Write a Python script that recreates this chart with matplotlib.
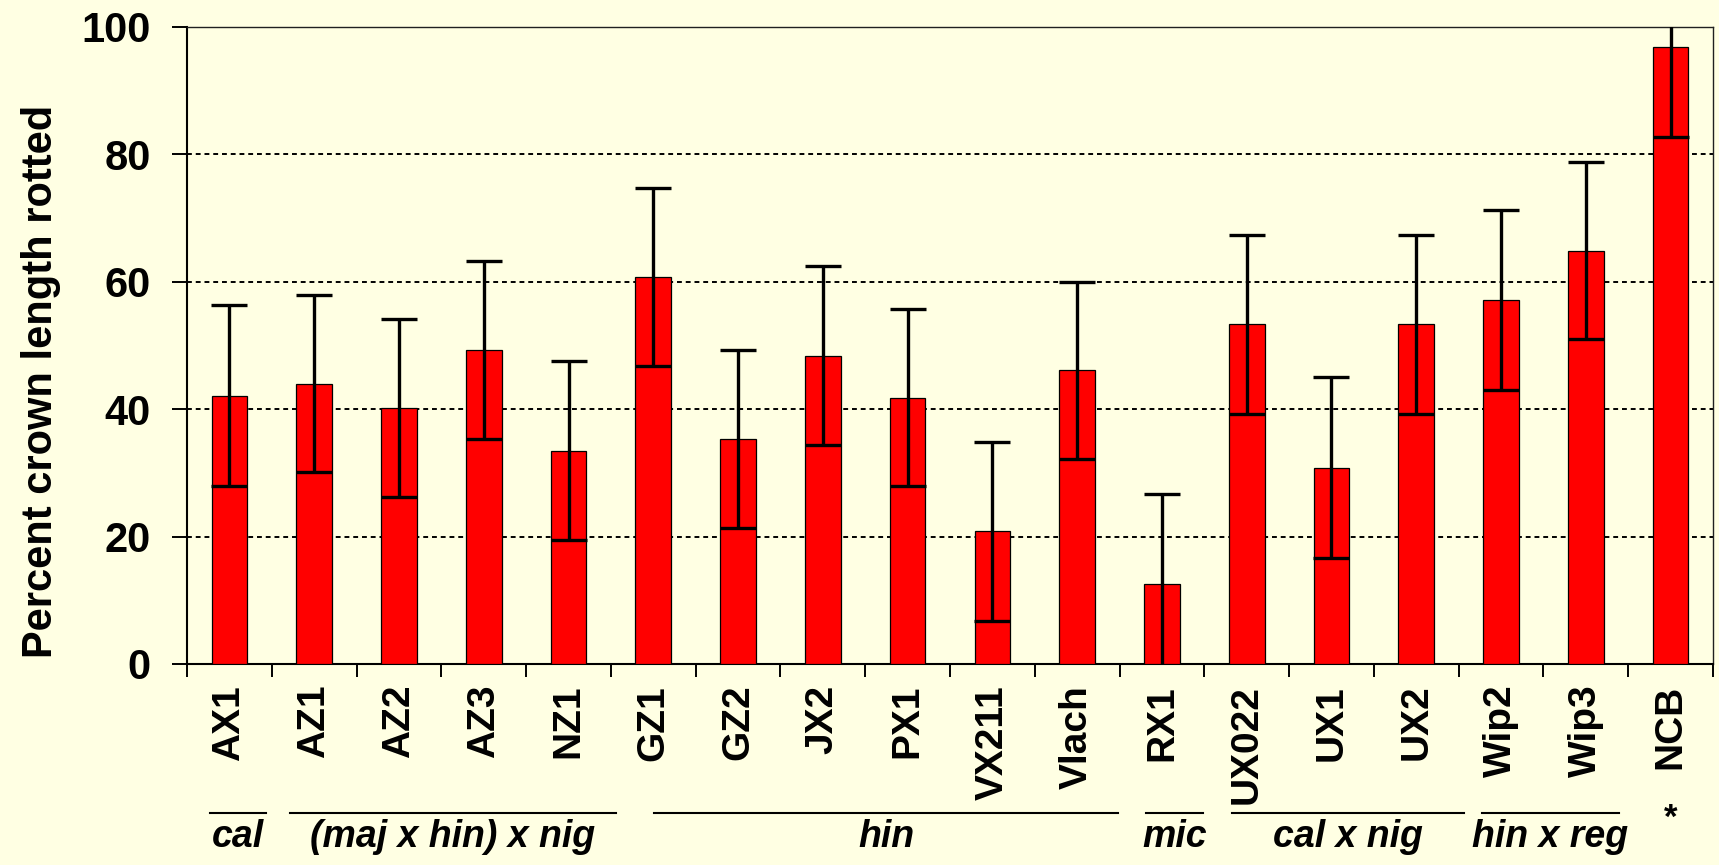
import numpy as np
import matplotlib.pyplot as plt
from matplotlib.lines import Line2D

# Data
cultivars = ['AX1', 'AZ1', 'AZ2', 'AZ3', 'NZ1', 'GZ1', 'GZ2', 'JX2', 'PX1', 'VX211',
             'Vlach', 'RX1', 'UX022', 'UX1', 'UX2', 'Wip2', 'Wip3', 'NCB']
pct_rotted = [42.1, 44.0, 40.2, 49.3, 33.5, 60.8, 35.3, 48.4, 41.8, 20.8,
              46.1, 12.6, 53.3, 30.8, 53.3, 57.1, 64.9, 96.8]
err = [14.2, 13.9, 14.0, 14.0, 14.0, 14.0, 14.0, 14.0, 13.9, 14.1,
       13.9, 14.1, 14.0, 14.2, 14.1, 14.1, 13.9, 14.0]
yticks = [0, 20, 40, 60, 80, 100]

# species groups under the x axis
group_labels = ['cal', '(maj x hin) x nig', 'hin', 'mic', 'cal x nig', 'hin x reg']
# line spans in category units (hand-drawn in the original)
group_spans = [(-0.23, 0.43), (0.71, 4.56), (5.01, 10.48), (10.81, 11.48),
               (11.83, 14.56), (14.77, 16.39)]
star_label = '*'

bg = '#FFFFE3'
font = 'Liberation Sans'

fig = plt.figure(figsize=(17.19, 8.65), dpi=100, facecolor=bg)
ax = fig.add_axes([0.1088, 0.2324, 0.8877, 0.7364], facecolor=bg)

x = np.arange(len(cultivars))
ax.bar(x, pct_rotted, width=0.42, color='#FF0000', edgecolor='black',
       linewidth=0.9, zorder=3)
ax.errorbar(x, pct_rotted, yerr=err, fmt='none', ecolor='black',
            elinewidth=2.4, capsize=13, capthick=2.4, zorder=4)

ax.set_xlim(-0.5, len(cultivars) - 0.5)
ax.set_ylim(0, 100)

# grid
for v in yticks[1:]:
    ax.axhline(v, color='black', linewidth=1.4, dashes=(2.5, 2.0), zorder=1)

ax.set_yticks(yticks)
ax.set_yticklabels([str(v) for v in yticks], fontsize=30, fontweight='bold',
                   family=font)
ax.tick_params(axis='y', length=11, width=1.4, pad=15, direction='out')

# category labels centred, tick marks on the category boundaries
ax.set_xticks(x)
ax.set_xticklabels(cultivars, rotation=90, fontsize=28, fontweight='bold',
                   family=font, va='top')
ax.tick_params(axis='x', which='major', length=0, pad=15)
ax.set_xticks(np.arange(len(cultivars) + 1) - 0.5, minor=True)
ax.tick_params(axis='x', which='minor', length=9, width=1.4, direction='out')

for s in ['left', 'bottom']:
    ax.spines[s].set_linewidth(1.5)
for s in ['top', 'right']:
    ax.spines[s].set_linewidth(1.0)
    ax.spines[s].set_color('#202020')

ax.set_ylabel('Percent crown length rotted', fontsize=30, fontweight='bold',
              family=font)
ax.yaxis.set_label_coords(-0.0826, 0.443)

# group annotations
tr = ax.get_xaxis_transform()
for lab, (a, b) in zip(group_labels, group_spans):
    ax.add_line(Line2D([a, b], [-0.234, -0.234], transform=tr, color='black',
                       linewidth=1.5, clip_on=False))
    ax.text((a + b) / 2, -0.288, lab, transform=tr, ha='center', va='baseline',
            fontsize=27, fontweight='bold', fontstyle='italic', family=font)
ax.text(x[-1], -0.258, star_label, transform=tr, ha='center', va='baseline',
        fontsize=25, fontweight='bold', family=font)

fig.savefig('out.png', dpi=100, facecolor=bg)
